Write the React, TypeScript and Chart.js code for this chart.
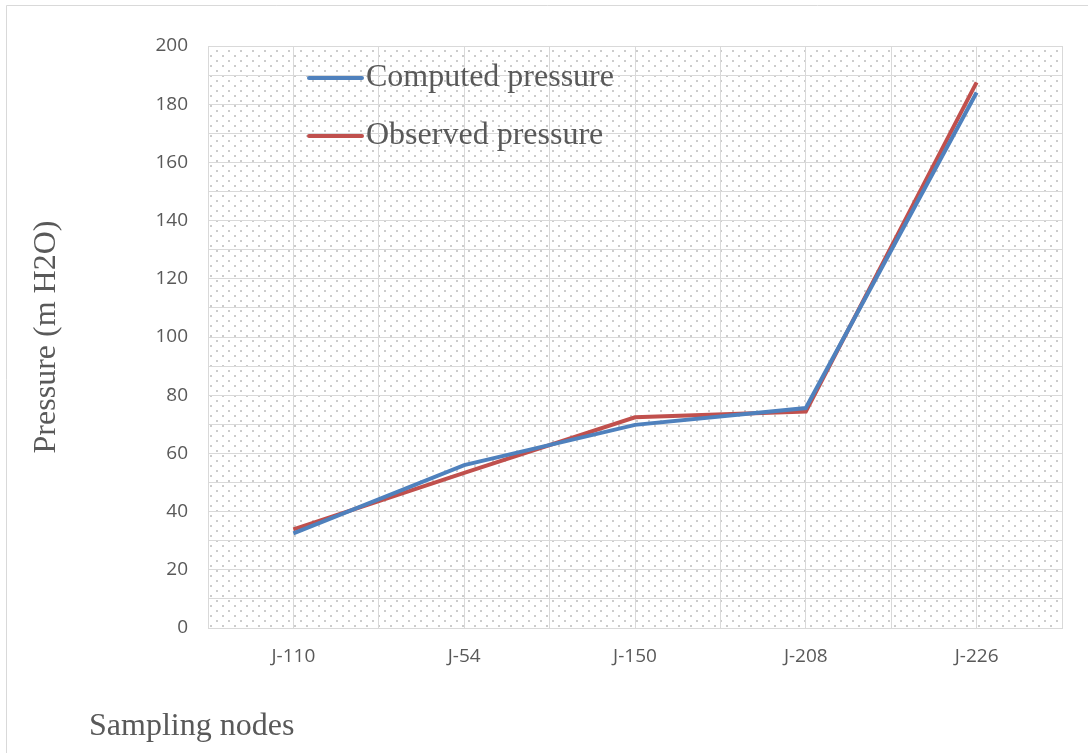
import React, { useEffect, useRef } from "react";
import { Chart, registerables } from "chart.js";

Chart.register(...registerables);

const categories = ["J-110", "J-54", "J-150", "J-208", "J-226"];
const computedPressure = [32.5, 56, 69.8, 75.6, 184];
const observedPressure = [33.9, 53.3, 72.4, 74.4, 187.5];
const seriesNames = ["Computed pressure", "Observed pressure"];
const seriesColors = ["#4F81BD", "#C0504D"];
const yTitle = "Pressure (m H2O)";
const xTitle = "Sampling nodes";

function makePattern(): CanvasPattern | string {
  const c = document.createElement("canvas");
  c.width = 12;
  c.height = 10;
  const g = c.getContext("2d");
  if (!g) return "#fff";
  g.fillStyle = "#ffffff";
  g.fillRect(0, 0, 12, 10);
  g.fillStyle = "#cccccc";
  g.fillRect(0, 0, 2, 2);
  g.fillRect(6, 5, 2, 2);
  const p = g.createPattern(c, "repeat");
  return p || "#fff";
}

export default function App() {
  const ref = useRef<HTMLCanvasElement>(null);
  useEffect(() => {
    document.body.style.margin = "0";
    const canvas = ref.current;
    if (!canvas) return;
    const pattern = makePattern();

    const decor = {
      id: "decor",
      beforeDraw(chart: any) {
        const { ctx, chartArea } = chart;
        ctx.save();
        ctx.fillStyle = "#ffffff";
        ctx.fillRect(0, 0, chart.width, chart.height);
        ctx.strokeStyle = "#d9d9d9";
        ctx.lineWidth = 1;
        ctx.beginPath();
        ctx.moveTo(6.5, chart.height);
        ctx.lineTo(6.5, 5.5);
        ctx.lineTo(chart.width, 5.5);
        ctx.stroke();
        ctx.fillStyle = pattern as any;
        ctx.fillRect(chartArea.left, chartArea.top, chartArea.right - chartArea.left, chartArea.bottom - chartArea.top);
        ctx.restore();
      },
      afterDraw(chart: any) {
        const { ctx, chartArea } = chart;
        ctx.save();
        ctx.font = "32px 'Liberation Serif', serif";
        ctx.fillStyle = "#595959";
        seriesNames.forEach((name, i) => {
          const y = 78 + i * 58;
          ctx.strokeStyle = seriesColors[i];
          ctx.lineWidth = 4;
          ctx.lineCap = "round";
          ctx.beginPath();
          ctx.moveTo(309, y);
          ctx.lineTo(362, y);
          ctx.stroke();
          ctx.textAlign = "left";
          ctx.textBaseline = "middle";
          ctx.fillText(name, 366, y);
        });
        ctx.textAlign = "left";
        ctx.textBaseline = "middle";
        ctx.fillText(xTitle, 89, 727);
        ctx.translate(47, (chartArea.top + chartArea.bottom) / 2);
        ctx.rotate(-Math.PI / 2);
        ctx.textAlign = "center";
        ctx.textBaseline = "middle";
        ctx.fillText(yTitle, 0, 0);
        ctx.restore();
      },
    };

    const chart = new Chart(canvas, {
      type: "line",
      data: {
        datasets: [
          {
            label: seriesNames[0],
            data: computedPressure.map((v, i) => ({ x: i, y: v })),
            borderColor: seriesColors[0],
            backgroundColor: seriesColors[0],
            borderWidth: 4,
            pointRadius: 0,
            tension: 0,
          },
          {
            label: seriesNames[1],
            data: observedPressure.map((v, i) => ({ x: i, y: v })),
            borderColor: seriesColors[1],
            backgroundColor: seriesColors[1],
            borderWidth: 4,
            pointRadius: 0,
            tension: 0,
          },
        ],
      },
      options: {
        responsive: false,
        animation: false,
        layout: { padding: { left: 0, top: 46, right: 26, bottom: 0 } },
        plugins: { legend: { display: false }, tooltip: { enabled: false } },
        scales: {
          x: {
            type: "linear",
            min: -0.5,
            max: 4.5,
            afterFit: (s: any) => { s.height = 125; },
            afterBuildTicks: (s: any) => {
              const t = [];
              for (let v = -0.5; v <= 4.5001; v += 0.5) t.push({ value: v });
              s.ticks = t;
            },
            grid: { color: "#d9d9d9", lineWidth: 1, drawTicks: false },
            border: { color: "#d9d9d9" },
            ticks: {
              autoSkip: false,
              maxRotation: 0,
              padding: 17,
              color: "#595959",
              font: { family: "'Open Sans', sans-serif", size: 19 },
              callback: (v: any) => (Number.isInteger(v) ? categories[v] : ""),
            },
          },
          y: {
            min: 0,
            max: 200,
            afterFit: (s: any) => { s.width = 208; },
            grid: { color: "#d9d9d9", lineWidth: 1, drawTicks: false },
            border: { display: false },
            ticks: {
              stepSize: 10,
              autoSkip: false,
              padding: 20,
              color: "#595959",
              font: { family: "'Open Sans', sans-serif", size: 19 },
              callback: (v: any) => (v % 20 === 0 ? String(v) : ""),
            },
          },
        },
      },
      plugins: [decor],
    });
    return () => chart.destroy();
  }, []);
  return <canvas ref={ref} width={1088} height={753} style={{ display: "block" }} />;
}
